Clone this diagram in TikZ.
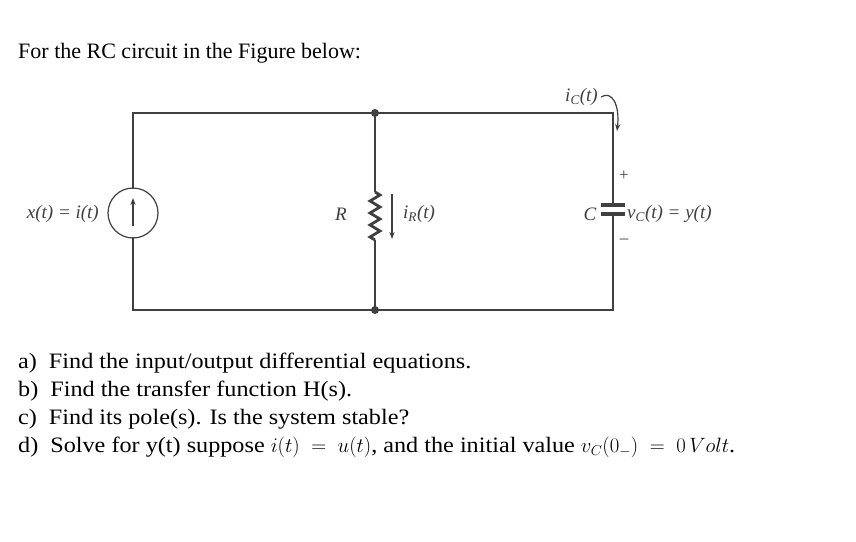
\documentclass[tikz,border=0pt]{standalone}
\usepackage{fontspec}
\setmainfont{Liberation Serif}
\newfontfamily\qfont[FakeStretch=1.1]{Liberation Serif}
\usetikzlibrary{arrows.meta,decorations.pathmorphing}
\begin{document}
\begin{tikzpicture}[x=1pt,y=-1pt,
  wire/.style={line width=2.8pt, black!75},
  lbl/.style={font=\fontsize{19}{21}\selectfont\itshape, inner sep=0pt, text=black!75},
  qtxt/.style={font=\qfont\fontsize{22}{26}\selectfont, anchor=base west, inner sep=0pt}]
\useasboundingbox (0,0) rectangle (856,541);
\fill[white] (0,0) rectangle (856,541);
\node[qtxt, font=\fontsize{22}{26}\selectfont] (title) at (18,58) {For the RC circuit in the Figure below:};
% nodes
\coordinate (tl) at (133,113); \coordinate (bl) at (133,310);
\coordinate (tm) at (375,113); \coordinate (bm) at (375,310);
\coordinate (tr) at (613,113); \coordinate (br) at (613,310);
\coordinate (s1) at (133,189); \coordinate (s2) at (133,237);
\coordinate (r1) at (375,192); \coordinate (r2) at (375,240);
\coordinate (c1) at (613,205); \coordinate (c2) at (613,214);
\draw[wire] (s1) -- (tl) -- (tr) -- (c1);
\draw[wire] (s2) -- (bl) -- (br) -- (c2);
\draw[wire] (tm) -- (r1);
\draw[wire] (r2) -- (bm);
\draw[wire, decorate, decoration={zigzag, segment length=12pt, amplitude=5pt}] (r1) -- (r2);
\fill[black!75] (tm) circle (4pt) (bm) circle (4pt);
\draw[line width=1.2pt, black!75] (133,213) ellipse (25pt and 25pt);
\draw[line width=1.2pt, black!75, -{Stealth[length=7pt]}] (133,226) -- (133,198);
\draw[line width=3.5pt, black!75] (601,205) -- (625,205);
\draw[line width=3.5pt, black!75] (601,214) -- (625,214) ;
\draw[line width=1.2pt, black!75, -{Stealth[length=7pt]}] (392,194) -- (392,239);
\node[lbl, anchor=east] (xl) at (99,214) {x(t) = i(t)};
\node[lbl] (R) at (341,214) {R};
\node[lbl, anchor=west] (iR) at (403,214) {i\textsubscript{R}(t)};
\node[lbl] (C) at (590,214) {C};
\node[lbl, anchor=west] (vC) at (627,214) {v\textsubscript{C}(t) = y(t)};
\node[lbl, font=\fontsize{17}{19}\selectfont] (plus) at (624,176) {+};
\node[lbl, font=\fontsize{17}{19}\selectfont] (minus) at (624,241) {\textendash};
\node[lbl, anchor=east] (iC) at (598,97) {i\textsubscript{C}(t)};
\draw[line width=1.2pt, black!75, -{Stealth[length=7pt]}] (iC.east) ++(3,0) .. controls (612,90) and (620,105) .. (617,131);
% questions
\begin{scope}[every node/.style={qtxt}]
\node (qa) at (18,368) {a)\hspace{12pt}Find the input/output differential equations.};
\node (qb) at (18,396) {b)\hspace{12pt}Find the transfer function H(s).};
\node (qc) at (18,424) {c)\hspace{12pt}Find its pole(s). Is the system stable?};
\node (qd) at (18,452) {d)\hspace{12pt}Solve for y(t) suppose $i(t)\;=\;u(t)$, and the initial value $v_C(0_{-})\;=\;0\,Volt$.};
\end{scope}
\end{tikzpicture}
\end{document}
